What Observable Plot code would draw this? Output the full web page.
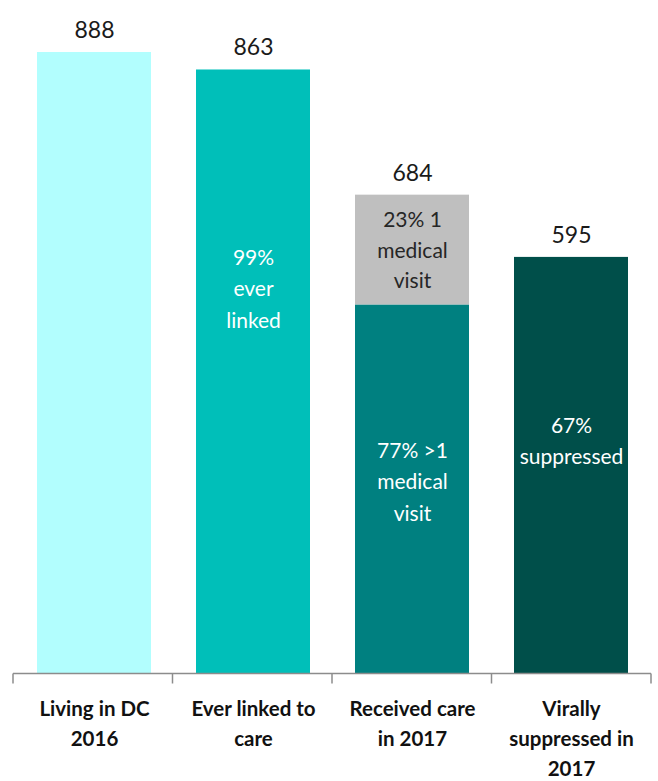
<!DOCTYPE html>
<html>
<head>
<meta charset="utf-8">
<script src="https://cdn.jsdelivr.net/npm/d3@7"></script>
<script src="https://cdn.jsdelivr.net/npm/@observablehq/plot@0.6"></script>
<style>
  html, body { margin: 0; padding: 0; background: #fff; }
  #chart { width: 658px; height: 781px; }
</style>
</head>
<body>
<div id="chart"></div>
<script>
const categories = ["Living in DC\n2016", "Ever linked to\ncare", "Received care\nin 2017", "Virally\nsuppressed in\n2017"];
const totals = [888, 863, 684, 595];
const receivedSingleVisit = 157;   // 23% of 684
const receivedMultiVisit = 527;    // 77% of 684
const innerLabels = ["", "99%\never\nlinked", "77% >1\nmedical\nvisit", "67%\nsuppressed"];
const grayLabel = "23% 1\nmedical\nvisit";

const barColors = ["#b2fefe", "#00bfb9", "#008080", "#004f4a"];
const grayColor = "#bfbfbf";

// Build stacked rows: lower segments first, then gray top segment
const rows = categories.map((c, i) => ({
  cat: c,
  value: i === 2 ? receivedMultiVisit : totals[i],
  color: barColors[i]
}));
rows.push({cat: categories[2], value: receivedSingleVisit, color: grayColor});

const totalRows = categories.map((c, i) => ({cat: c, total: totals[i]}));

// inner label positions (relative to bar heights)
const innerRows = [
  {cat: categories[1], text: innerLabels[1], y: totals[1] * 0.642},
  {cat: categories[2], text: innerLabels[2], y: receivedMultiVisit * 0.527},
  {cat: categories[3], text: innerLabels[3], y: totals[3] * 0.565}
];
const grayRows = [{cat: categories[2], text: grayLabel, y: receivedMultiVisit + receivedSingleVisit * 0.52}];

function axisMark(index, scales, values, dims) {
  const n = categories.length;
  const left = dims.marginLeft;
  const right = dims.width - dims.marginRight;
  const step = (right - left) / n;
  const y0 = dims.height - dims.marginBottom + 0.5;
  const bounds = d3.range(n + 1).map(i => left + i * step);
  const g = d3.create("svg:g").attr("stroke", "#8c8c8c").attr("stroke-width", 1.5).attr("fill", "none");
  g.append("line").attr("x1", left).attr("x2", right).attr("y1", y0).attr("y2", y0);
  for (const b of bounds) {
    g.append("line").attr("x1", b).attr("x2", b).attr("y1", y0).attr("y2", y0 + 10);
  }
  return g.node();
}

const chart = Plot.plot({
  width: 658,
  height: 781,
  marginTop: 52,
  marginBottom: 108,
  marginLeft: 13,
  marginRight: 7,
  style: {fontFamily: "Lato, sans-serif", background: "#fff"},
  x: {domain: categories, paddingInner: 0.285, paddingOuter: 0.1425, axis: null},
  y: {domain: [0, 888], axis: null},
  marks: [
    Plot.barY(rows, {x: "cat", y: "value", fill: "color", order: null}),
    Plot.text(totalRows, {x: "cat", y: "total", text: d => String(d.total), dy: -22, fontSize: 23, fill: "#1a1a1a"}),
    Plot.text(innerRows, {x: "cat", y: "y", text: "text", fill: "#ffffff", fontSize: 21, lineHeight: 1.5}),
    Plot.text(grayRows, {x: "cat", y: "y", text: "text", fill: "#262626", fontSize: 21, lineHeight: 1.45}),
    axisMark,
    Plot.axisX({domain: categories, tickSize: 0, tickPadding: 21, fontSize: 20.5, fontWeight: "bold", lineHeight: 1.47, fill: "#111", label: null})
  ]
});
document.getElementById("chart").appendChild(chart);
</script>
</body>
</html>
